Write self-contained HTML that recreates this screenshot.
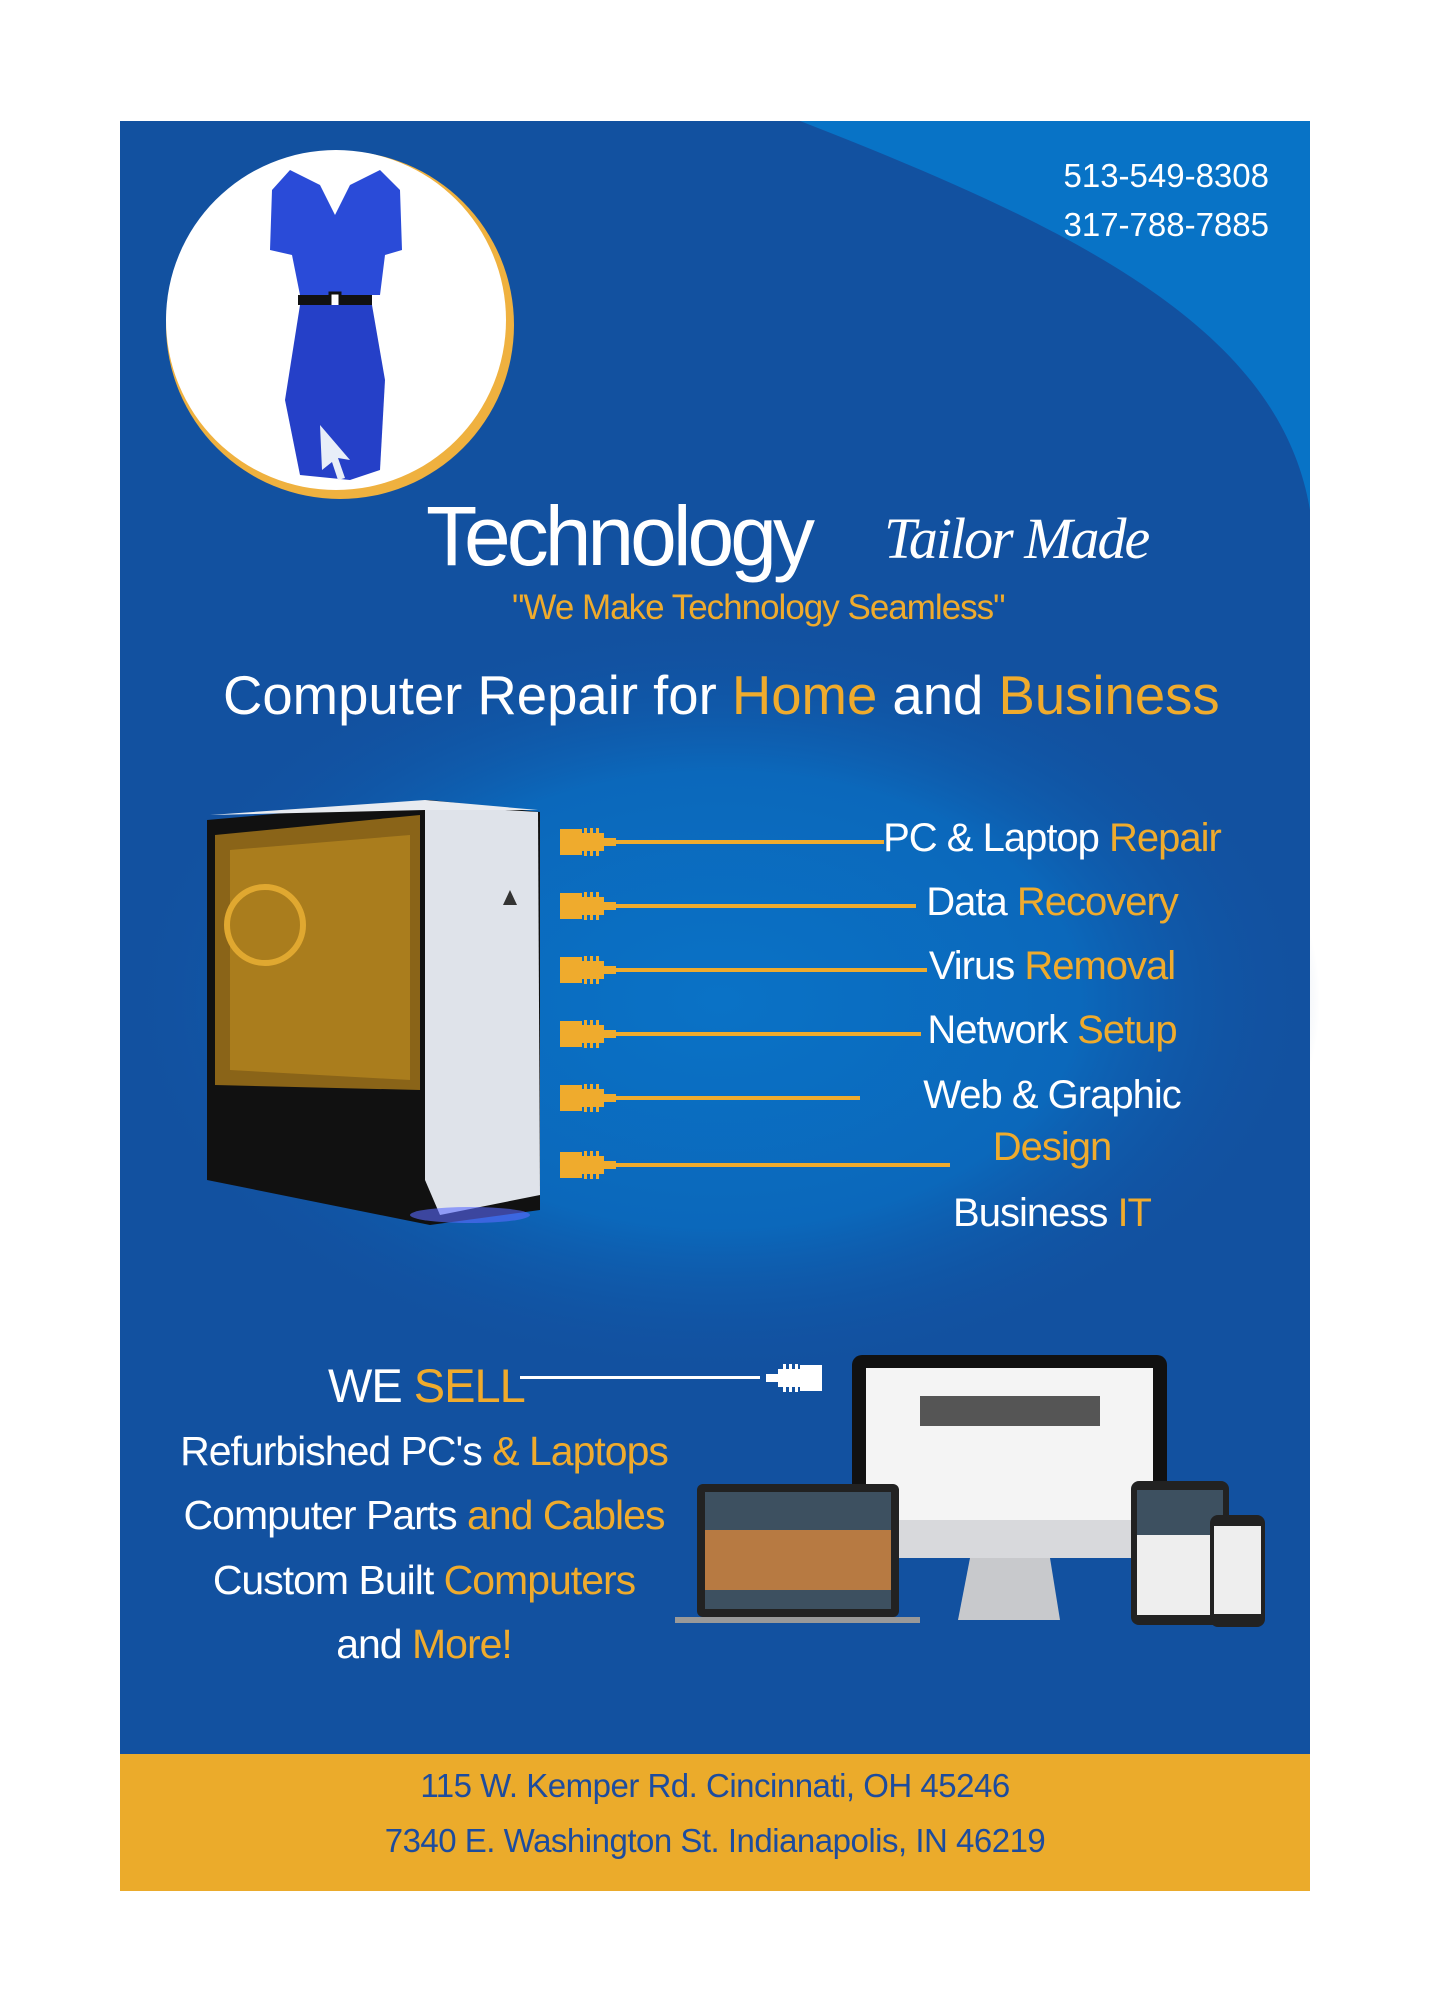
<!DOCTYPE html>
<html><head><meta charset="utf-8"><style>
*{margin:0;padding:0;box-sizing:border-box}
body{width:1429px;height:2000px;background:#fff;position:relative;overflow:hidden;font-family:"Liberation Sans",sans-serif}
.a{position:absolute;white-space:nowrap}
.o{color:#efab2d}
.w{color:#fff}
.svc{position:absolute;left:852px;width:400px;text-align:center;font-size:40px;color:#fff;letter-spacing:-1px;line-height:1}
.list{position:absolute;left:124px;width:600px;text-align:center;font-size:41px;color:#fff;letter-spacing:-1px;line-height:1}
</style></head><body>
<svg class="a" style="left:0;top:0" width="1429" height="2000">
<defs>
<radialGradient id="g" cx="0.5" cy="0.5" r="0.5">
<stop offset="0" stop-color="#0a72c6"/><stop offset="0.6" stop-color="#0b68bb"/><stop offset="1" stop-color="#1251a0" stop-opacity="0"/>
</radialGradient>
<g id="p"><rect x="560" y="-13" width="22" height="26"/><rect x="582" y="-9" width="22" height="18"/><rect x="604" y="-4" width="12" height="8"/>
<rect x="584" y="-14" width="3" height="6"/><rect x="590" y="-14" width="3" height="6"/><rect x="596" y="-14" width="3" height="6"/><rect x="584" y="8" width="3" height="6"/><rect x="590" y="8" width="3" height="6"/><rect x="596" y="8" width="3" height="6"/></g>
</defs>
<rect x="120" y="121" width="1190" height="1640" fill="#1251a0"/>
<path d="M800 121 L1310 121 L1310 510 C1280 330 1080 230 800 121Z" fill="#0873c6"/>
<ellipse cx="720" cy="1000" rx="600" ry="380" fill="url(#g)"/>
<rect x="120" y="1754" width="1190" height="137" fill="#ebab2b"/>
<circle cx="340" cy="325" r="174" fill="#efb13f"/>
<circle cx="336" cy="320" r="170" fill="#fff"/>
<path d="M290 170 L320 185 L335 215 L350 185 L380 170 L400 190 L402 250 L385 255 L380 295 L300 295 L292 255 L270 250 L272 190Z" fill="#2a4bd8"/>
<rect x="298" y="295" width="74" height="10" fill="#111"/>
<rect x="330" y="293" width="10" height="14" fill="#fff" stroke="#111" stroke-width="3"/>
<path d="M300 305 L372 305 L385 380 L380 470 L350 480 L300 475 L285 400Z" fill="#2540c8"/>
<path d="M320 425 L350 460 L338 458 L345 478 L338 480 L332 462 L322 470Z" fill="#e8eef8"/>
<path d="M207 820 L430 800 L540 812 L540 1210 L430 1225 L207 1180Z" fill="#111"/>
<path d="M215 835 L420 815 L420 1090 L215 1085Z" fill="#8a6418"/>
<path d="M230 850 L410 835 L410 1080 L230 1070Z" fill="#c08d22" opacity="0.6"/>
<circle cx="265" cy="925" r="38" fill="none" stroke="#e0a830" stroke-width="6"/>
<path d="M425 805 L538 812 L540 1195 L440 1215 L425 1180Z" fill="#dfe3ea"/>
<path d="M210 815 L425 800 L538 810 L425 810Z" fill="#e8ebf0"/>
<path d="M503 905 L510 890 L517 905Z" fill="#333"/>
<ellipse cx="470" cy="1215" rx="60" ry="8" fill="#5a6bff" opacity="0.6"/>
<g fill="#efab2d">
<use href="#p" y="842"/><rect x="616" y="840" width="268" height="4"/>
<use href="#p" y="906"/><rect x="616" y="904" width="300" height="4"/>
<use href="#p" y="970"/><rect x="616" y="968" width="311" height="4"/>
<use href="#p" y="1034"/><rect x="616" y="1032" width="305" height="4"/>
<use href="#p" y="1098"/><rect x="616" y="1096" width="244" height="4"/>
<use href="#p" y="1165"/><rect x="616" y="1163" width="334" height="4"/>
</g>
<rect x="520" y="1376" width="240" height="3" fill="#fff"/>
<g fill="#fff" transform="translate(1382,0) scale(-1,1)"><use href="#p" y="1378"/></g>
<rect x="852" y="1355" width="315" height="185" rx="10" fill="#111"/>
<rect x="866" y="1368" width="287" height="158" fill="#f4f4f4"/>
<rect x="920" y="1396" width="180" height="30" fill="#555"/>
<rect x="852" y="1520" width="315" height="38" fill="#d8d9dc"/>
<path d="M970 1558 L1050 1558 L1060 1620 L958 1620Z" fill="#c8c9cc"/>
<rect x="697" y="1484" width="202" height="133" rx="6" fill="#222"/>
<rect x="705" y="1492" width="186" height="117" fill="#3d5060"/>
<rect x="705" y="1530" width="186" height="60" fill="#b77a42"/>
<rect x="675" y="1617" width="245" height="6" fill="#999"/>
<rect x="1131" y="1481" width="98" height="144" rx="8" fill="#222"/>
<rect x="1137" y="1490" width="86" height="125" fill="#eee"/>
<rect x="1137" y="1490" width="86" height="45" fill="#3d5060"/>
<rect x="1210" y="1515" width="55" height="112" rx="8" fill="#222"/>
<rect x="1214" y="1526" width="47" height="88" fill="#eee"/>
</svg>
<div class="a w" style="right:160px;top:151px;font-size:33px;line-height:49px;text-align:right">513-549-8308<br>317-788-7885</div>
<div class="a w" style="left:426px;top:488px;font-size:84px;letter-spacing:-4px;font-weight:300">Technology</div>
<div class="a w" style="left:884px;top:505px;font-size:58px;font-family:'Liberation Serif',serif;font-style:italic;letter-spacing:-2px">Tailor Made</div>
<div class="a o" style="left:512px;top:588px;font-size:35px;letter-spacing:-1px">"We Make Technology Seamless"</div>
<div class="a w" style="left:223px;top:664px;font-size:54.5px;letter-spacing:0px">Computer Repair for <span class="o">Home</span> and <span class="o">Business</span></div>
<div class="svc" style="top:818px">PC &amp; Laptop <span class="o">Repair</span></div>
<div class="svc" style="top:882px">Data <span class="o">Recovery</span></div>
<div class="svc" style="top:946px">Virus <span class="o">Removal</span></div>
<div class="svc" style="top:1010px">Network <span class="o">Setup</span></div>
<div class="svc" style="top:1075px">Web &amp; Graphic</div>
<div class="svc" style="top:1127px;color:#efab2d">Design</div>
<div class="svc" style="top:1193px">Business <span class="o">IT</span></div>
<div class="a w" style="left:328px;top:1358px;font-size:47px;letter-spacing:-1px">WE <span class="o">SELL</span></div>
<div class="list" style="top:1431px">Refurbished PC's <span class="o">&amp; Laptops</span></div>
<div class="list" style="top:1495px">Computer Parts <span class="o">and Cables</span></div>
<div class="list" style="top:1560px">Custom Built <span class="o">Computers</span></div>
<div class="list" style="top:1624px">and <span class="o">More!</span></div>
<div class="a" style="left:120px;width:1190px;top:1758px;text-align:center;color:#1d4c9e;font-size:33px;line-height:55px;letter-spacing:-0.5px">115 W. Kemper Rd. Cincinnati, OH 45246<br>7340 E. Washington St. Indianapolis, IN 46219</div>
</body></html>
